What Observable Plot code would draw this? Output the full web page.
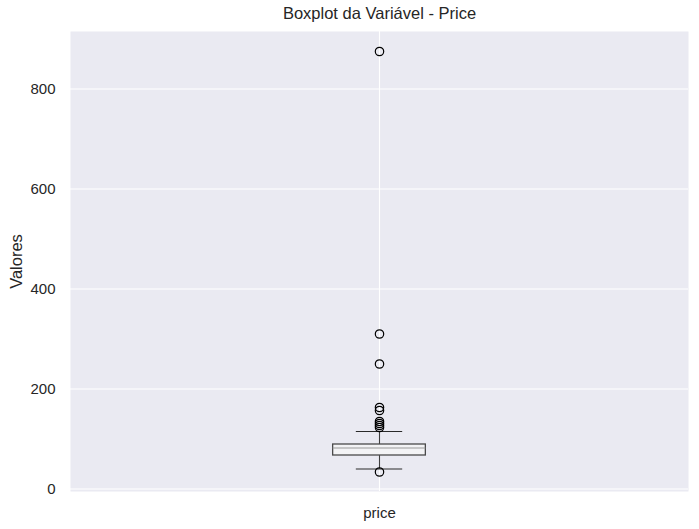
<!DOCTYPE html>
<html>
<head>
<meta charset="utf-8">
<script src="https://cdn.jsdelivr.net/npm/d3@7"></script>
<script src="https://cdn.jsdelivr.net/npm/@observablehq/plot@0.6"></script>
<style>
  html, body { margin: 0; padding: 0; background: #fff; }
  svg { font-family: "Liberation Sans", Arial, sans-serif; }
</style>
</head>
<body>
<div id="chart"></div>
<script>
const categories = ["price"];
const q1 = [67];
const median = [82];
const q3 = [89];
const whiskerLow = [40];
const whiskerHigh = [115];
const outliers = [34, 123, 127, 131, 135, 157, 163, 250, 310, 875];
const yTicks = [0, 200, 400, 600, 800];

const boxes = categories.map((c, i) => ({
  cat: c, pos: i + 1,
  q1: q1[i], med: median[i], q3: q3[i], lo: whiskerLow[i], hi: whiskerHigh[i]
}));
const pts = outliers.map(v => ({pos: 1, v}));
const halfBox = 0.075, halfCap = 0.0375;

const chart = Plot.plot({
  width: 699,
  height: 529,
  marginLeft: 70,
  marginRight: 11,
  marginTop: 31,
  marginBottom: 38,
  style: {fontFamily: '"Liberation Sans", Arial, sans-serif', color: "#262626", background: "#fff"},
  x: {domain: [0.5, 1.5]},
  y: {domain: [-5, 915]},
  marks: [
    Plot.frame({fill: "#eaeaf2", stroke: null}),
    Plot.gridY(yTicks, {stroke: "#fff", strokeOpacity: 1, strokeWidth: 1.1}),
    Plot.gridX(boxes.map(d => d.pos), {stroke: "#fff", strokeOpacity: 1, strokeWidth: 1.1}),
    Plot.axisY(yTicks, {tickSize: 0, tickPadding: 15, fontSize: 15, label: null}),
    Plot.axisX(boxes.map(d => d.pos), {tickSize: 0, tickPadding: 16, fontSize: 15, label: null,
      tickFormat: p => categories[p - 1]}),
    // whiskers
    Plot.ruleX(boxes, {x: "pos", y1: "lo", y2: "q1", stroke: "#3f3f3f", strokeWidth: 1.1}),
    Plot.ruleX(boxes, {x: "pos", y1: "q3", y2: "hi", stroke: "#3f3f3f", strokeWidth: 1.1}),
    // caps
    Plot.ruleY(boxes, {y: "lo", x1: d => d.pos - halfCap, x2: d => d.pos + halfCap, stroke: "#2a2a2a", strokeWidth: 1.1}),
    Plot.ruleY(boxes, {y: "hi", x1: d => d.pos - halfCap, x2: d => d.pos + halfCap, stroke: "#2a2a2a", strokeWidth: 1.1}),
    // box
    Plot.rect(boxes, {x1: d => d.pos - halfBox, x2: d => d.pos + halfBox, y1: "q1", y2: "q3",
      fill: "#f3f3f5", stroke: "#4a4a4a", strokeWidth: 1.3}),
    // median
    Plot.ruleY(boxes, {y: "med", x1: d => d.pos - halfBox, x2: d => d.pos + halfBox, stroke: "#9a9a9a", strokeWidth: 1.1}),
    // outliers
    Plot.dot(pts, {x: "pos", y: "v", r: 4.2, stroke: "#000", strokeWidth: 1.2, fill: "none"}),
    // title
    Plot.text(["Boxplot da Variável - Price"], {frameAnchor: "top", dy: -18, lineAnchor: "middle",
      fontSize: 16.5, fill: "#262626"}),
    // y label
    Plot.text(["Valores"], {frameAnchor: "left", dx: -54, rotate: -90, lineAnchor: "middle",
      textAnchor: "middle", fontSize: 16.5, fill: "#262626"})
  ]
});
document.getElementById("chart").appendChild(chart);
</script>
</body>
</html>
